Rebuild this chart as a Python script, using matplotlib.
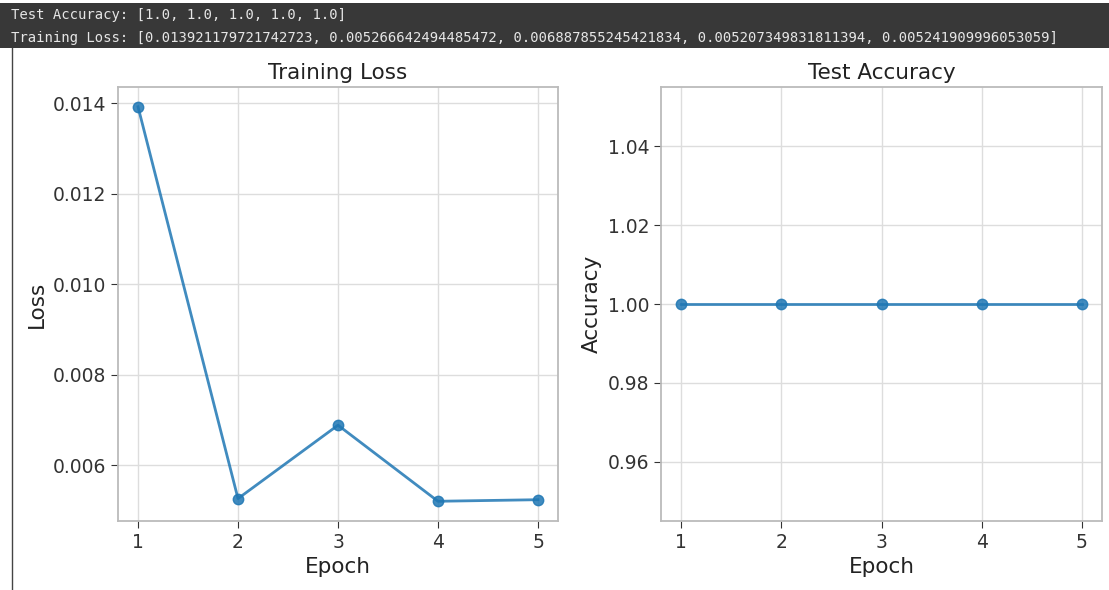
import matplotlib.pyplot as plt

# Values printed in the notebook output
epochs = [1, 2, 3, 4, 5]
test_accuracy = [1.0, 1.0, 1.0, 1.0, 1.0]
train_loss = [0.013921179721742723, 0.005266642494485472, 0.006887855245421834,
              0.005207349831811394, 0.005241909996053059]

fig = plt.figure(figsize=(11.09, 5.9), dpi=100)
fig.patch.set_facecolor('white')

# Notebook output header (dark band with printed lists)
fig.patches.append(plt.Rectangle((0, 1 - 48 / 590), 1, 45 / 590, transform=fig.transFigure,
                                 facecolor='#383838', edgecolor='none', zorder=0))
fig.lines.append(plt.Line2D([11.5 / 1109, 11.5 / 1109], [0, 1 - 48 / 590], transform=fig.transFigure,
                            color='#444444', linewidth=1))
fig.text(11 / 1109, 1 - 15 / 590, "Test Accuracy: " + str(test_accuracy),
         family='DejaVu Sans Mono', fontsize=10, color='#e6e6e6', va='center', ha='left')
fig.text(11 / 1109, 1 - 38 / 590, "Training Loss: " + str(train_loss),
         family='DejaVu Sans Mono', fontsize=10, color='#e6e6e6', va='center', ha='left')

ax1 = fig.add_axes([118 / 1109, 1 - 521 / 590, 440 / 1109, 434 / 590])
ax2 = fig.add_axes([661 / 1109, 1 - 521 / 590, 441 / 1109, 434 / 590])

panels = [
    (ax1, train_loss, 'Training Loss', 'Loss'),
    (ax2, test_accuracy, 'Test Accuracy', 'Accuracy'),
]
for ax, vals, title, ylabel in panels:
    ax.plot(epochs, vals, marker='o', color='#1f77b4', alpha=0.85,
            linewidth=2, markersize=7.5)
    ax.set_title(title, fontsize=15.5, color='#222222', pad=6)
    ax.set_xlabel('Epoch', fontsize=15.5, color='#222222')
    ax.set_ylabel(ylabel, fontsize=15.5, color='#222222')
    ax.set_xticks(epochs)
    ax.grid(True, color='#dddddd', linewidth=1)
    ax.set_axisbelow(True)
    ax.tick_params(labelsize=13.5, colors='#333333', length=5)
    for s in ax.spines.values():
        s.set_color('#bbbbbb')
        s.set_linewidth(1.3)

fig.savefig('out.png', dpi=100)
